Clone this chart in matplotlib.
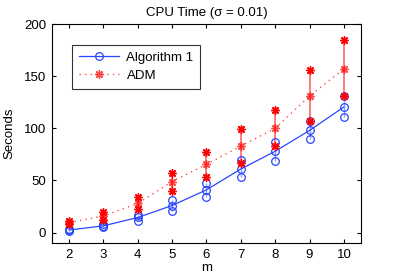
import matplotlib
matplotlib.use("Agg")
import matplotlib.pyplot as plt

plt.rcParams["font.family"] = ["Liberation Sans", "DejaVu Sans"]

m = [2, 3, 4, 5, 6, 7, 8, 9, 10]

# Algorithm 1 timings (mean and spread)
alg_mean = [2.5, 6.5, 14.5, 26, 41, 61, 78, 98, 120.5]
alg_low = [2, 5, 11, 21, 34, 53, 69, 89.5, 110.5]
alg_high = [3, 8, 17, 31.5, 47.5, 70, 87, 107.5, 131]

# ADM timings
adm_mean = [9.5, 16, 28, 49, 65.5, 83, 100, 131, 157]
adm_low = [8, 12, 22.5, 40, 53.5, 67, 83.5, 107, 131]
adm_high = [11, 20, 34.5, 57.5, 77.5, 99, 117.5, 156, 184.5]

blue = "#2846ff"
red = "#ff0000"
star = (8, 2, 0)

fig = plt.figure(figsize=(3.99, 2.8), dpi=100)
ax = fig.add_axes([0.130, 0.132, 0.775, 0.782])

ax.vlines(m, alg_low, alg_high, color=blue, alpha=0.5, linewidth=1.0)
ax.vlines(m, adm_low, adm_high, color=red, alpha=0.6, linewidth=1.2)

ax.plot(m, alg_mean, "-", color=blue, linewidth=0.9, marker="o", markersize=5.5,
        markerfacecolor="none", markeredgecolor=blue, markeredgewidth=0.9, label="Algorithm 1")
ax.plot(m, alg_low, "o", color=blue, markersize=5.5, markerfacecolor="none", markeredgewidth=0.9)
ax.plot(m, alg_high, "o", color=blue, markersize=5.5, markerfacecolor="none", markeredgewidth=0.9)

ax.plot(m, adm_mean, linestyle=(0, (1, 3)), color=red, alpha=0.7, linewidth=1.0, marker=star,
        markersize=6, markeredgecolor=red, markeredgewidth=1.0, label="ADM")
ax.plot(m, adm_low, linestyle="none", marker=star, markersize=6, markeredgecolor=red, markeredgewidth=1.0)
ax.plot(m, adm_high, linestyle="none", marker=star, markersize=6, markeredgecolor=red, markeredgewidth=1.0)

ax.set_xlim(1.5, 10.5)
ax.set_ylim(-10, 200)
ax.set_xticks(m)
ax.set_yticks([0, 50, 100, 150, 200])
ax.tick_params(direction="in", top=True, right=True, labelsize=9.5, length=3, pad=4)
ax.set_xlabel("m", fontsize=9.5, labelpad=1)
ax.set_ylabel("Seconds", fontsize=9.5, labelpad=6)
ax.set_title("CPU Time (σ = 0.01)", fontsize=9.5, pad=6)

leg = ax.legend(loc="upper left", bbox_to_anchor=(0.045, 0.935), fontsize=9.5, frameon=True,
                fancybox=False, edgecolor="black", handlelength=3.0, borderpad=0.5,
                labelspacing=0.45, handletextpad=0.6)
leg.get_frame().set_linewidth(0.8)

fig.savefig("out.png", dpi=100)
